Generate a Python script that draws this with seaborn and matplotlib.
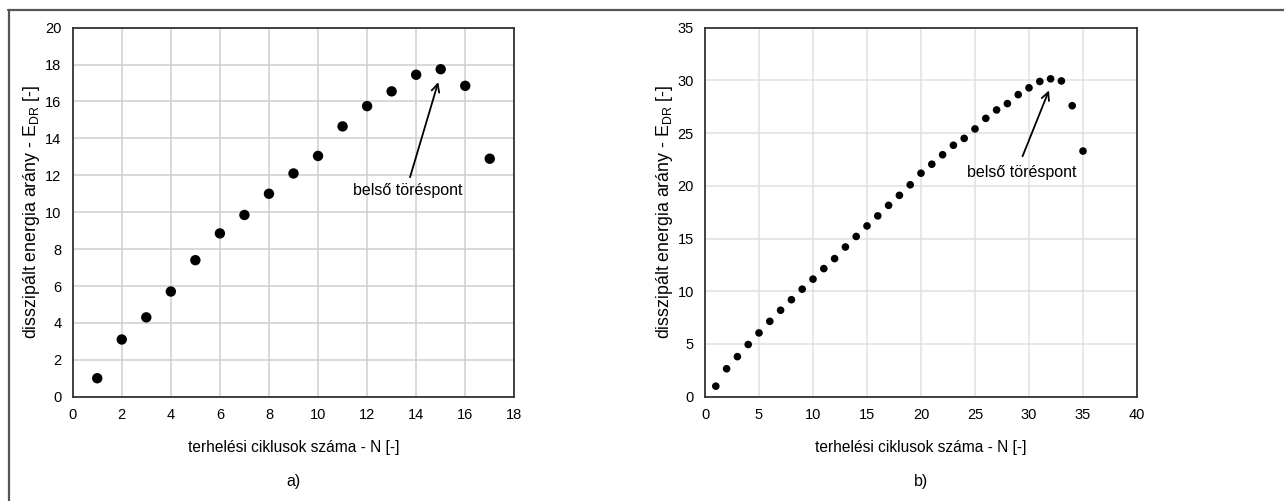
import matplotlib
matplotlib.use("Agg")
import matplotlib.pyplot as plt
from matplotlib.lines import Line2D
import seaborn as sns
import pandas as pd

# ---- data ----
cycles_a = list(range(1, 18))
edr_a = [1.0, 3.1, 4.3, 5.7, 7.4, 8.85, 9.85, 11.0, 12.1, 13.05, 14.65, 15.75,
         16.55, 17.45, 17.75, 16.85, 12.9]

cycles_b = list(range(1, 36))
edr_b = [1.0, 2.65, 3.8, 4.95, 6.05, 7.15, 8.2, 9.2, 10.2, 11.15, 12.15, 13.1,
         14.2, 15.2, 16.2, 17.15, 18.15, 19.1, 20.1, 21.2, 22.05, 22.95, 23.85,
         24.5, 25.4, 26.4, 27.2, 27.8, 28.65, 29.3, 29.9, 30.15, 29.95, 27.6, 23.3]

xlabel = "terhelési ciklusok száma - N [-]"
ylabel = r"disszipált energia arány - E$_{\mathregular{DR}}$ [-]"
annot_text = "belső töréspont"
panel_labels = ["a)", "b)"]

xticks_a = list(range(0, 19, 2))
yticks_a = list(range(0, 21, 2))
xticks_b = list(range(0, 41, 5))
yticks_b = list(range(0, 36, 5))

df_a = pd.DataFrame({"N": cycles_a, "EDR": edr_a})
df_b = pd.DataFrame({"N": cycles_b, "EDR": edr_b})

sns.set_theme(style="whitegrid")
plt.rcParams["font.family"] = ["Liberation Sans", "DejaVu Sans"]
plt.rcParams["mathtext.fontset"] = "custom"
plt.rcParams["mathtext.rm"] = "Liberation Sans"

fig = plt.figure(figsize=(12.84, 5.01), dpi=100)
fig.patch.set_facecolor("white")

H = 501.0
W = 1284.0
ax_top, ax_bot = 27.7, 396.7
axA = fig.add_axes([72.7 / W, (H - ax_bot) / H, (514.3 - 72.7) / W, (ax_bot - ax_top) / H])
axB = fig.add_axes([705.0 / W, (H - ax_bot) / H, (1137.0 - 705.0) / W, (ax_bot - ax_top) / H])

# outer frame lines (top and left)
fig.add_artist(Line2D([8 / W, 1.0], [1 - 9.5 / H, 1 - 9.5 / H], color="#555555", lw=1.6,
                      transform=fig.transFigure))
fig.add_artist(Line2D([8.5 / W, 8.5 / W], [0.0, 1 - 9.5 / H], color="#555555", lw=1.6,
                      transform=fig.transFigure))

sns.scatterplot(data=df_a, x="N", y="EDR", ax=axA, color="black", s=56,
                edgecolor="none", legend=False, zorder=3)
sns.scatterplot(data=df_b, x="N", y="EDR", ax=axB, color="black", s=30,
                edgecolor="none", legend=False, zorder=3)

for ax, xt, yt, lab, gridc in [(axA, xticks_a, yticks_a, panel_labels[0], "#cfcfcf"),
                                (axB, xticks_b, yticks_b, panel_labels[1], "#e0e0e0")]:
    ax.set_xlim(xt[0], xt[-1])
    ax.set_ylim(yt[0], yt[-1])
    ax.set_xticks(xt)
    ax.set_yticks(yt)
    ax.set_xticklabels([str(v) for v in xt])
    ax.set_yticklabels([str(v) for v in yt])
    ax.tick_params(axis="both", length=0, labelsize=10.5, colors="#000000", pad=8)
    ax.set_facecolor("white")
    ax.grid(True, color=gridc, lw=1.1)
    for sp in ax.spines.values():
        sp.set_visible(True)
        sp.set_color("#333333")
        sp.set_linewidth(1.3)
    ax.set_xlabel(xlabel, fontsize=11.2, labelpad=13, color="black")
    ax.set_ylabel(ylabel, fontsize=12.8, labelpad=2, color="black")
    ax.text(0.5, -0.21, lab, transform=ax.transAxes, ha="center", va="top",
            fontsize=11.5, color="black")

# annotations: separate text and arrow
axA.text(13.65, 11.15, annot_text, ha="center", va="center", fontsize=11.5, color="black")
axA.annotate("", xy=(14.9, 17.05), xytext=(13.75, 11.9),
             arrowprops=dict(arrowstyle="->", color="black", lw=1.3,
                             shrinkA=0, shrinkB=0, mutation_scale=14))
axB.text(29.3, 21.3, annot_text, ha="center", va="center", fontsize=11.5, color="black")
axB.annotate("", xy=(31.85, 29.05), xytext=(29.4, 22.8),
             arrowprops=dict(arrowstyle="->", color="black", lw=1.3,
                             shrinkA=0, shrinkB=0, mutation_scale=14))

fig.savefig("out.png", dpi=100, facecolor="white")
